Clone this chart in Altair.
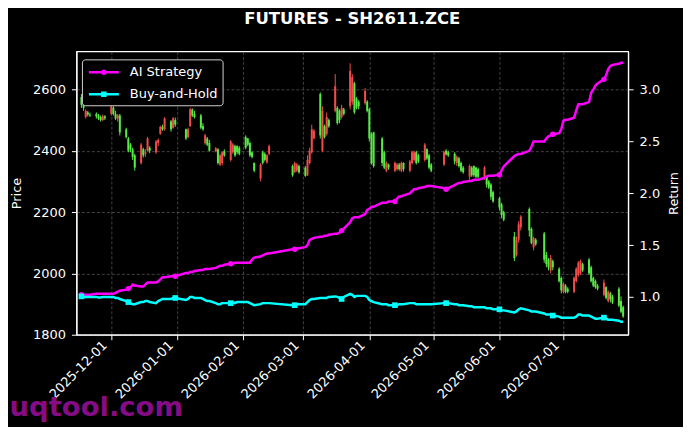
import altair as alt
import pandas as pd

# ---------------- data ----------------
first_day = "2025-11-17"
last_day = "2026-07-29"
closed_days = [
    "2026-01-01", "2026-01-02",
    "2026-02-16", "2026-02-17", "2026-02-18", "2026-02-19", "2026-02-20", "2026-02-23",
    "2026-04-06", "2026-05-01", "2026-05-04", "2026-05-05",
    "2026-06-04", "2026-06-05", "2026-06-12", "2026-06-19",
]

open_ = [
    2575, 2550, 2510, 2525, 2518, 2520, 2515, 2510, 2500, 2512,
    2520, 2540, 2520, 2505, 2515, 2470, 2440, 2420, 2405, 2385,
    2360, 2405, 2390, 2400, 2410, 2395, 2425, 2455, 2478, 2470, 2495, 2475, 2500,
    2470, 2445, 2480, 2535, 2520, 2515, 2480, 2425, 2440, 2425, 2398, 2405, 2355, 2360, 2398, 2370, 2395, 2415, 2415, 2410,
    2445, 2440, 2425, 2395, 2360, 2310, 2395, 2390, 2362, 2390,
    2350, 2330, 2335, 2350,
    2345, 2320, 2360, 2395, 2440, 2585, 2400, 2480, 2455, 2500, 2530, 2540, 2530, 2510, 2535, 2545, 2560, 2620, 2570, 2560, 2555, 2560,
    2535, 2455, 2460, 2440, 2395, 2335, 2355, 2335, 2340, 2355, 2335, 2360, 2335, 2360, 2370, 2395, 2385, 2370, 2405, 2385, 2355,
    2355, 2400, 2395, 2390, 2360, 2375, 2360, 2345, 2315, 2345, 2350, 2345, 2340, 2315, 2315, 2300, 2290, 2265,
    2245, 2225, 2200, 2120, 2060, 2110, 2150, 2210, 2145, 2085, 2110, 2130, 2060, 2045, 2010, 2040, 2015, 1985,
    1940, 1960, 1950, 1940, 1975, 1995, 2000, 2030, 2045, 2020, 1985, 1975, 1960, 1930, 1955, 1910, 1935, 1925, 1950, 1910, 1890,
]
high = [
    2585, 2555, 2535, 2530, 2524, 2525, 2520, 2515, 2518, 2516,
    2550, 2545, 2530, 2520, 2520, 2475, 2445, 2425, 2410, 2390,
    2425, 2410, 2405, 2445, 2415, 2435, 2440, 2482, 2485, 2510, 2500, 2510, 2508,
    2472, 2475, 2540, 2538, 2530, 2520, 2490, 2455, 2445, 2435, 2412, 2408, 2390, 2398, 2405, 2435, 2425, 2420, 2418, 2415,
    2450, 2442, 2430, 2398, 2362, 2360, 2400, 2395, 2388, 2420,
    2355, 2365, 2360, 2355,
    2350, 2385, 2410, 2485, 2470, 2590, 2545, 2485, 2525, 2505, 2650, 2545, 2535, 2550, 2540, 2685, 2650, 2625, 2575, 2565, 2605, 2565,
    2540, 2460, 2462, 2445, 2400, 2365, 2358, 2365, 2360, 2360, 2365, 2362, 2370, 2400, 2400, 2400, 2390, 2425, 2408, 2390, 2360,
    2400, 2405, 2400, 2395, 2385, 2380, 2365, 2350, 2355, 2350, 2352, 2348, 2345, 2350, 2318, 2305, 2295, 2270,
    2250, 2230, 2205, 2135, 2120, 2170, 2190, 2215, 2150, 2120, 2115, 2135, 2070, 2050, 2060, 2045, 2020, 1990,
    1970, 1965, 1955, 1990, 2020, 2040, 2045, 2035, 2050, 2025, 1990, 1980, 1965, 1980, 1958, 1945, 1940, 1930, 1955, 1925, 1895,
]
low = [
    2540, 2530, 2505, 2512, 2510, 2505, 2500, 2495, 2497, 2500,
    2515, 2515, 2500, 2495, 2450, 2440, 2395, 2395, 2370, 2335,
    2355, 2378, 2380, 2398, 2392, 2390, 2415, 2452, 2465, 2465, 2462, 2472, 2478,
    2435, 2440, 2478, 2510, 2505, 2470, 2465, 2420, 2415, 2398, 2395, 2355, 2350, 2352, 2380, 2365, 2390, 2380, 2388, 2385,
    2405, 2415, 2380, 2375, 2330, 2300, 2355, 2365, 2358, 2385,
    2315, 2328, 2330, 2325,
    2315, 2318, 2355, 2390, 2438, 2440, 2395, 2440, 2450, 2475, 2525, 2485, 2490, 2505, 2515, 2535, 2550, 2520, 2535, 2535, 2550, 2525,
    2430, 2355, 2345, 2350, 2340, 2330, 2338, 2330, 2335, 2335, 2330, 2332, 2330, 2355, 2365, 2355, 2360, 2365, 2370, 2340, 2330,
    2350, 2384, 2380, 2355, 2350, 2345, 2330, 2325, 2305, 2315, 2315, 2310, 2310, 2305, 2280, 2275, 2240, 2230,
    2205, 2180, 2170, 2040, 2055, 2100, 2140, 2120, 2095, 2075, 2090, 2035, 2020, 2010, 2000, 2010, 1970, 1935,
    1935, 1935, 1935, 1935, 1970, 1990, 1995, 2005, 1995, 1970, 1955, 1950, 1945, 1925, 1915, 1905, 1905, 1900, 1890, 1870, 1855,
]
close = [
    2550, 2540, 2530, 2518, 2515, 2512, 2505, 2500, 2512, 2506,
    2545, 2520, 2505, 2515, 2460, 2445, 2400, 2405, 2380, 2345,
    2420, 2385, 2395, 2440, 2400, 2430, 2435, 2478, 2470, 2505, 2470, 2505, 2485,
    2440, 2470, 2535, 2515, 2510, 2475, 2470, 2450, 2420, 2400, 2408, 2360, 2385, 2395, 2385, 2430, 2420, 2385, 2395, 2390,
    2410, 2420, 2385, 2380, 2335, 2355, 2360, 2370, 2385, 2415,
    2320, 2360, 2355, 2330,
    2318, 2370, 2400, 2470, 2465, 2450, 2530, 2445, 2510, 2480, 2610, 2490, 2500, 2540, 2520, 2660, 2640, 2525, 2540, 2545, 2595, 2530,
    2440, 2360, 2350, 2360, 2345, 2360, 2345, 2360, 2355, 2340, 2360, 2340, 2365, 2395, 2395, 2360, 2365, 2420, 2375, 2345, 2335,
    2395, 2388, 2385, 2365, 2380, 2350, 2335, 2330, 2350, 2320, 2320, 2315, 2315, 2345, 2290, 2280, 2250, 2235,
    2215, 2190, 2175, 2050, 2110, 2160, 2185, 2140, 2100, 2115, 2095, 2045, 2030, 2020, 2050, 2020, 1975, 1945,
    1965, 1940, 1940, 1985, 2015, 2035, 2040, 2010, 2000, 1975, 1960, 1955, 1950, 1970, 1920, 1940, 1915, 1905, 1895, 1875, 1860,
]
ai_strategy = [
    1.02, 1.02, 1.02, 1.02, 1.02, 1.03, 1.03, 1.03, 1.03, 1.03,
    1.03, 1.03, 1.04, 1.05, 1.06, 1.07, 1.08, 1.09, 1.12, 1.11,
    1.10, 1.10, 1.12, 1.14, 1.14, 1.14, 1.15, 1.17, 1.19, 1.19, 1.20, 1.20, 1.20,
    1.23, 1.23, 1.24, 1.24, 1.25, 1.26, 1.26, 1.27, 1.27, 1.27, 1.28, 1.29, 1.30, 1.30, 1.31, 1.32, 1.32, 1.33, 1.33, 1.33,
    1.33, 1.33, 1.33, 1.36, 1.38, 1.39, 1.40, 1.41, 1.42, 1.42,
    1.46, 1.46, 1.47, 1.47,
    1.48, 1.50, 1.55, 1.56, 1.57, 1.58, 1.58, 1.59, 1.59, 1.60, 1.61, 1.61, 1.62, 1.64, 1.66, 1.72, 1.76, 1.77, 1.77, 1.77, 1.80, 1.84,
    1.85, 1.87, 1.87, 1.91, 1.91, 1.91, 1.92, 1.92, 1.95, 1.97, 1.97, 1.98, 2.00, 2.02, 2.04, 2.04, 2.05, 2.06, 2.07, 2.07, 2.07,
    2.05, 2.04, 2.05, 2.08, 2.09, 2.10, 2.10, 2.11, 2.12, 2.12, 2.13, 2.13, 2.13, 2.15, 2.16, 2.17, 2.17, 2.17,
    2.18, 2.22, 2.26, 2.36, 2.37, 2.38, 2.38, 2.41, 2.45, 2.50, 2.50, 2.50, 2.53, 2.55, 2.56, 2.57, 2.58, 2.62,
    2.70, 2.71, 2.71, 2.73, 2.80, 2.86, 2.86, 2.86, 2.88, 2.97, 3.00, 3.04, 3.06, 3.10, 3.14, 3.20, 3.23, 3.24, 3.25, 3.26, 3.26,
]
buy_and_hold = [
    1.005, 1.00, 1.00, 1.00, 1.00, 1.00, 0.995, 0.995, 1.00, 1.00,
    1.00, 1.00, 0.99, 0.99, 0.98, 0.96, 0.95, 0.94, 0.93, 0.93,
    0.95, 0.95, 0.96, 0.96, 0.95, 0.94, 0.96, 0.97, 0.98, 0.98, 0.98, 0.99, 0.99,
    0.97, 0.98, 1.00, 1.00, 0.99, 0.99, 0.98, 0.97, 0.96, 0.96, 0.94, 0.93, 0.93, 0.94, 0.94, 0.94, 0.95, 0.94, 0.95, 0.95,
    0.95, 0.95, 0.94, 0.93, 0.92, 0.93, 0.94, 0.94, 0.94, 0.94,
    0.92, 0.92, 0.93, 0.93,
    0.93, 0.95, 0.97, 0.98, 0.98, 0.99, 0.99, 0.99, 0.99, 1.00, 1.005, 1.00, 0.99, 0.98, 1.00, 1.03, 1.02, 1.00, 1.01, 1.01, 1.01, 1.00,
    0.97, 0.96, 0.95, 0.93, 0.93, 0.93, 0.92, 0.92, 0.92, 0.93, 0.93, 0.93, 0.94, 0.94, 0.94, 0.93, 0.93, 0.93, 0.93, 0.93, 0.93,
    0.94, 0.94, 0.94, 0.93, 0.93, 0.92, 0.92, 0.92, 0.91, 0.91, 0.90, 0.90, 0.90, 0.90, 0.89, 0.89, 0.89, 0.88,
    0.88, 0.87, 0.87, 0.85, 0.86, 0.88, 0.89, 0.87, 0.86, 0.86, 0.86, 0.84, 0.83, 0.83, 0.83, 0.82, 0.81, 0.80,
    0.80, 0.80, 0.80, 0.80, 0.81, 0.83, 0.83, 0.82, 0.82, 0.81, 0.80, 0.79, 0.79, 0.80, 0.79, 0.78, 0.78, 0.78, 0.77, 0.76, 0.76,
]
marker_days = [
    "2025-11-17", "2025-12-09", "2025-12-31", "2026-01-26", "2026-02-25", "2026-03-19",
    "2026-04-13", "2026-05-07", "2026-06-01", "2026-06-26", "2026-07-20",
]
month_ticks = [(2025, 12), (2026, 1), (2026, 2), (2026, 3), (2026, 4), (2026, 5), (2026, 6), (2026, 7)]
price_ticks = [1800, 2000, 2200, 2400, 2600]
return_ticks = [1.0, 1.5, 2.0, 2.5, 3.0]
series_names = ["AI Strategy", "Buy-and-Hold"]

# ---------------- tables ----------------
day_keys = [d.strftime("%Y-%m-%d") for d in pd.bdate_range(first_day, last_day)
            if d.strftime("%Y-%m-%d") not in closed_days]
dates = [k + "T00:00:00" for k in day_keys]

candles = pd.DataFrame({"date": dates, "open": open_, "high": high, "low": low, "close": close})
candles["dir"] = ["up" if c >= o else "down" for o, c in zip(open_, close)]

rows = []
for k, d, a, b in zip(day_keys, dates, ai_strategy, buy_and_hold):
    m = k in marker_days
    rows.append({"date": d, "series": series_names[0], "value": a, "marker": m})
    rows.append({"date": d, "series": series_names[1], "value": b, "marker": m})
lines = pd.DataFrame(rows)

# ---------------- styling ----------------
FONT = "DejaVu Sans"
MAGENTA = "#ff00ff"
CYAN = "#00ffff"
UP = "#f24b4b"
DOWN = "#57ea45"
GRID = "#5c5c5c"

xscale = alt.Scale(domain=[alt.DateTime(year=2025, month=11, date=17),
                           alt.DateTime(year=2026, month=7, date=29)], nice=False)
xaxis = alt.Axis(values=[alt.DateTime(year=y, month=m, date=1) for y, m in month_ticks],
                 format="%Y-%m-%d", labelAngle=-45, labelAlign="right", labelBaseline="top",
                 labelOverlap=False, labelOffset=-11, title=None, grid=True,
                 gridColor=GRID, gridDash=[3, 2], gridWidth=0.7,
                 tickSize=5, labelPadding=-1)
xenc = alt.X("date:T", scale=xscale, axis=xaxis)

pscale = alt.Scale(domain=[1800, 2724], nice=False, zero=False)
paxis = alt.Axis(orient="left", values=price_ticks, title="Price", grid=True,
                 gridColor=GRID, gridDash=[3, 2], gridWidth=0.7,
                 tickSize=5, labelPadding=6, titlePadding=9, format="d")

rscale = alt.Scale(domain=[0.635, 3.37], nice=False, zero=False)
raxis = alt.Axis(orient="right", values=return_ticks, title="Return", grid=False,
                 tickSize=5, labelPadding=6, titlePadding=8, titleAngle=270,
                 titleBaseline="top", format=".1f")
renc = alt.Y("value:Q", scale=rscale, axis=raxis)

dir_color = alt.Color("dir:N", scale=alt.Scale(domain=["up", "down"], range=[UP, DOWN]), legend=None)

wick = alt.Chart(candles).mark_rule(strokeWidth=1).encode(
    x=xenc, y=alt.Y("low:Q", scale=pscale, axis=paxis), y2="high:Q", color=dir_color)
body = alt.Chart(candles).mark_bar(size=2).encode(
    x=xenc, y=alt.Y("open:Q", scale=pscale, axis=paxis), y2="close:Q", color=dir_color)
candle_layer = alt.layer(wick, body)

series_color = alt.Scale(domain=series_names, range=[MAGENTA, CYAN])
base = alt.Chart(lines)
line = base.mark_line(strokeWidth=2.5).encode(
    x=xenc, y=renc, color=alt.Color("series:N", scale=series_color, legend=None))
mk_ai = base.transform_filter("datum.marker && datum.series == 'AI Strategy'").mark_point(
    shape="circle", filled=True, size=30, opacity=1, color=MAGENTA).encode(x=xenc, y=renc)
mk_bh = base.transform_filter("datum.marker && datum.series == 'Buy-and-Hold'").mark_point(
    shape="square", filled=True, size=32, opacity=1, color=CYAN).encode(x=xenc, y=renc)

circle_path = "M-0.8,0H3.2M1.4,0A0.2,0.2 0 1,1 1.0,0A0.2,0.2 0 1,1 1.4,0Z"
square_path = "M-0.8,0H3.2M1.0,-0.2H1.4V0.2H1.0Z"
leg = alt.Legend(title=None, orient="none", legendX=5.5, legendY=8,
                 fillColor="black", strokeColor="#d0d0d0", cornerRadius=3, padding=4,
                 labelColor="white", labelFontSize=13, labelFont=FONT,
                 symbolSize=225, symbolStrokeWidth=2.5, symbolOpacity=1,
                 rowPadding=6, labelOffset=26)
legend_layer = base.transform_filter("datum.marker").mark_point(opacity=0, strokeWidth=2.5).encode(
    x=xenc, y=renc,
    fill=alt.Fill("series:N", scale=series_color, legend=leg),
    stroke=alt.Stroke("series:N", scale=series_color, legend=leg),
    shape=alt.Shape("series:N", scale=alt.Scale(domain=series_names, range=[circle_path, square_path]), legend=leg),
)
line_layer = alt.layer(line, mk_ai, mk_bh, legend_layer)

watermark = alt.Chart(alt.Data(values=[{"t": "uqtool.com"}])).mark_text(
    font=FONT, fontSize=27.5, fontWeight="bold", color="#860c86", align="left", baseline="alphabetic"
).encode(text="t:N", x=alt.value(-67), y=alt.value(365))

chart = alt.layer(candle_layer, line_layer, watermark).resolve_scale(
    y="independent", color="independent"
).properties(
    width=553, height=284, background="black",
    autosize=alt.AutoSizeParams(type="none"),
    padding={"left": 68.6, "top": 43, "right": 55, "bottom": 92},
    title=alt.TitleParams("FUTURES - SH2611.ZCE", font=FONT, fontSize=16.5, fontWeight="bold",
                          color="white", anchor="middle", offset=24),
).configure_view(stroke="white", strokeWidth=1.2).configure_axis(
    labelFont=FONT, labelFontSize=13, labelColor="white", titleFont=FONT, titleFontSize=13,
    titleColor="white", titleFontWeight="normal", domainColor="white", tickColor="white",
    domainWidth=1.2, tickWidth=1,
)

chart.save("out.html", embed_options={"renderer": "svg", "actions": False})
